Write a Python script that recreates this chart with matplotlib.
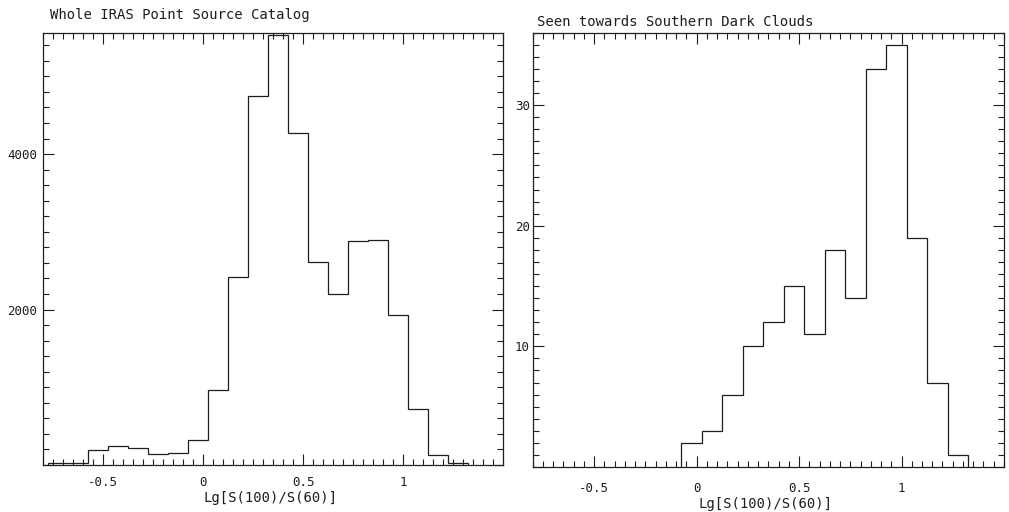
import numpy as np
import matplotlib
matplotlib.use("Agg")
import matplotlib.pyplot as plt
from matplotlib.ticker import FixedLocator, MultipleLocator

# histogram data (bin width 0.1)
edges_all_start = -0.775
counts_all = [20, 30, 190, 242, 216, 145, 150, 324, 963, 2420, 4743, 5530,
              4268, 2610, 2203, 2886, 2899, 1931, 726, 125, 20]
edges_dark_start = -0.075
counts_dark = [2, 3, 6, 10, 12, 15, 11, 18, 14, 33, 35, 19, 7, 1]
bin_width = 0.1

titles = ["Whole IRAS Point Source Catalog", "Seen towards Southern Dark Clouds"]
xlabel = "Lg[S(100)/S(60)]"
xticks = [-0.5, 0, 0.5, 1]
xtick_labels = ["-0.5", "0", "0.5", "1"]
yticks_all = [0, 2000, 4000]
ytick_labels_all = ["", "2000", "4000"]
yticks_dark = [0, 10, 20, 30]
ytick_labels_dark = ["", "10", "20", "30"]

plt.rcParams['font.family'] = ['DejaVu Sans Mono', 'DejaVu Sans']
plt.rcParams['axes.unicode_minus'] = False
ink = '#1e1e1e'

fig = plt.figure(figsize=(10.09, 5.12), dpi=100)
ax1 = fig.add_axes([0.0426, 0.0918, 0.456, 0.844])
ax2 = fig.add_axes([0.528, 0.088, 0.467, 0.848])


def make_edges(start, n):
    return start + bin_width * np.arange(n + 1)


def style_axis(ax, yticks, ylabels, ymin_step, xpad, ypad):
    ax.set_xlim(-0.8, 1.5)
    ax.xaxis.set_major_locator(FixedLocator(xticks))
    ax.set_xticklabels(xtick_labels)
    ax.xaxis.set_minor_locator(MultipleLocator(0.05))
    ax.yaxis.set_major_locator(FixedLocator(yticks))
    ax.set_yticklabels(ylabels)
    ax.yaxis.set_minor_locator(MultipleLocator(ymin_step))
    ax.tick_params(which='both', direction='in', top=True, right=True,
                   color=ink, width=0.8, labelsize=9, labelcolor=ink)
    ax.tick_params(which='major', length=8)
    ax.tick_params(which='minor', length=4.5)
    ax.tick_params(axis='x', pad=xpad)
    ax.tick_params(axis='y', pad=ypad)
    for sp in ax.spines.values():
        sp.set_linewidth(0.9)
        sp.set_color(ink)


ax1.stairs(counts_all, make_edges(edges_all_start, len(counts_all)),
           color=ink, linewidth=0.9)
ax1.set_ylim(0, 5560)
style_axis(ax1, yticks_all, ytick_labels_all, 200, 8, 4)
ax1.text(0.015, 1.032, titles[0], transform=ax1.transAxes, fontsize=10,
         color=ink, va='baseline', ha='left')
ax1.text(0.495, -0.076, xlabel, transform=ax1.transAxes, fontsize=10,
         color=ink, va='center', ha='center')

ax2.stairs(counts_dark, make_edges(edges_dark_start, len(counts_dark)),
           color=ink, linewidth=0.9)
ax2.set_ylim(0, 36)
style_axis(ax2, yticks_dark, ytick_labels_dark, 1, 11, 2)
ax2.text(0.01, 1.016, titles[1], transform=ax2.transAxes, fontsize=10,
         color=ink, va='baseline', ha='left')
ax2.text(0.493, -0.085, xlabel, transform=ax2.transAxes, fontsize=10,
         color=ink, va='center', ha='center')

fig.savefig("out.png", dpi=100)
